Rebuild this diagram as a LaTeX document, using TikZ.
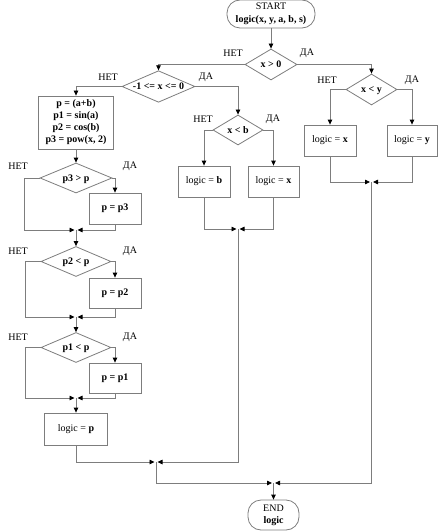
\documentclass[tikz,border=0pt]{standalone}
\usepackage{fontspec}
\setmainfont{Liberation Serif}
\usetikzlibrary{shapes.geometric,arrows.meta}
\definecolor{ln}{RGB}{125,125,125}

\begin{document}
\begin{tikzpicture}[x=1pt,y=-1pt,
  every node/.style={font=\fontsize{10}{12}\selectfont},
  term/.style={draw=ln,line width=0.8pt,rounded corners=13pt,align=center,inner sep=0pt},
  proc/.style={draw=ln,line width=0.8pt,minimum width=52pt,minimum height=31pt,align=center,inner sep=0pt},
  cond/.style={draw=ln,line width=0.8pt,diamond,aspect=2,inner sep=0pt,text height=6pt,text depth=0pt,
    minimum height=30pt,font=\fontsize{10}{12}\selectfont\bfseries},
  lbl/.style={inner sep=0pt},
  arr/.style={draw=ln,line width=0.8pt,-{Triangle[length=5pt,width=4.5pt,color=black]}},
  mrg/.style={arr,shorten >=1.5pt}]
\useasboundingbox (0,0) rectangle (438,532);
\node[term,minimum width=88pt,minimum height=28pt] (start) at (271,14) {START\\[1pt]\textbf{logic(x, y, a, b, s)}};
\node[cond,minimum width=52pt,minimum height=31pt] (cx0) at (271,64.5) {x > 0};
\node[cond,minimum width=73pt,minimum height=31pt] (cm1) at (158.5,86.5) {-1 <= x <= 0};
\node[cond,minimum width=51pt,minimum height=31pt] (cxy) at (371.5,89.5) {x < y};
\node[cond,minimum width=50pt] (cxb) at (238,130) {x < b};
\node[proc] (lx) at (330,140.5) {logic = \textbf{x}};
\node[proc,minimum width=50pt] (ly) at (412,140.5) {logic = \textbf{y}};
\node[proc] (lb) at (204,181.5) {logic = \textbf{b}};
\node[proc,minimum width=51pt] (lxm) at (273.5,181.5) {logic = \textbf{x}};
\node[proc,minimum width=75pt,minimum height=53pt,font=\fontsize{10}{12}\selectfont\bfseries] (pbox) at (76,122.5)
  {p = (a+b)\\p1 = sin(a)\\p2 = cos(b)\\p3 = pow(x, 2)};
\node[cond,minimum width=72pt] (c3) at (76,178) {p3 > p};
\node[proc] (p3) at (115,208.5) {\textbf{p = p3}};
\node[cond,minimum width=70pt] (c2) at (76,261.5) {p2 < p};
\node[proc,minimum height=30pt] (p2) at (115,293) {\textbf{p = p2}};
\node[cond,minimum width=70pt] (c1) at (76,347.5) {p1 < p};
\node[proc,minimum height=30pt] (p1) at (115,378) {\textbf{p = p1}};
\node[proc,minimum width=63pt,minimum height=32pt] (lp) at (76,429) {logic = \textbf{p}};
\node[term,minimum width=51pt,minimum height=30pt] (stop) at (273.5,515) {END\\\textbf{logic}};
% merge points
\coordinate (m3) at (76,230);
\coordinate (m2) at (76,317);
\coordinate (m1) at (76,398);
\coordinate (mxy) at (371.5,182);
\coordinate (mb) at (238,229);
\coordinate (ml) at (156,462);
\coordinate (mend) at (273.5,483);
\foreach \n/\x/\y/\t in {no0/233/53/НЕТ,yes0/307/53/ДА,no1/108/77/НЕТ,yes1/206/77/ДА,
  no2/327/80/НЕТ,yes2/412/80/ДА,no3/203/119/НЕТ,yes3/273/119/ДА,
  no4/18/166/НЕТ,yes4/130/166/ДА,no5/18/251/НЕТ,yes5/130/251/ДА,no6/18/337/НЕТ,yes6/130/337/ДА}
  \node[lbl] (\n) at (\x,\y) {\t};
\draw[arr] (start) -- (cx0);
\foreach \a/\b in {cx0.west/cm1.north,cx0.east/cxy.north,cm1.west/pbox.north,cm1.east/cxb.north,
  cxy.west/lx.north,cxy.east/ly.north,cxb.west/lb.north,cxb.east/lxm.north,
  c3.east/p3.north,c2.east/p2.north,c1.east/p1.north}
  \draw[arr] (\a) -| (\b);
\foreach \a/\b in {pbox/c3,m3/c2,m2/c1,m1/lp,mend/stop}
  \draw[arr] (\a) -- (\b);
\foreach \a/\m in {c3/m3,c2/m2,c1/m1}
  \draw[mrg] (\a.west) -- ++(-15,0) |- (\m);
\foreach \a/\m in {p3/m3,p2/m2,p1/m1,lx/mxy,ly/mxy,lb/mb,lxm/mb,lp/ml}
  \draw[mrg] (\a.south) |- (\m);
\draw[mrg] (mb) |- (ml);
\draw[mrg] (ml) |- (mend);
\draw[mrg] (mxy) |- (mend);
\end{tikzpicture}
\end{document}
